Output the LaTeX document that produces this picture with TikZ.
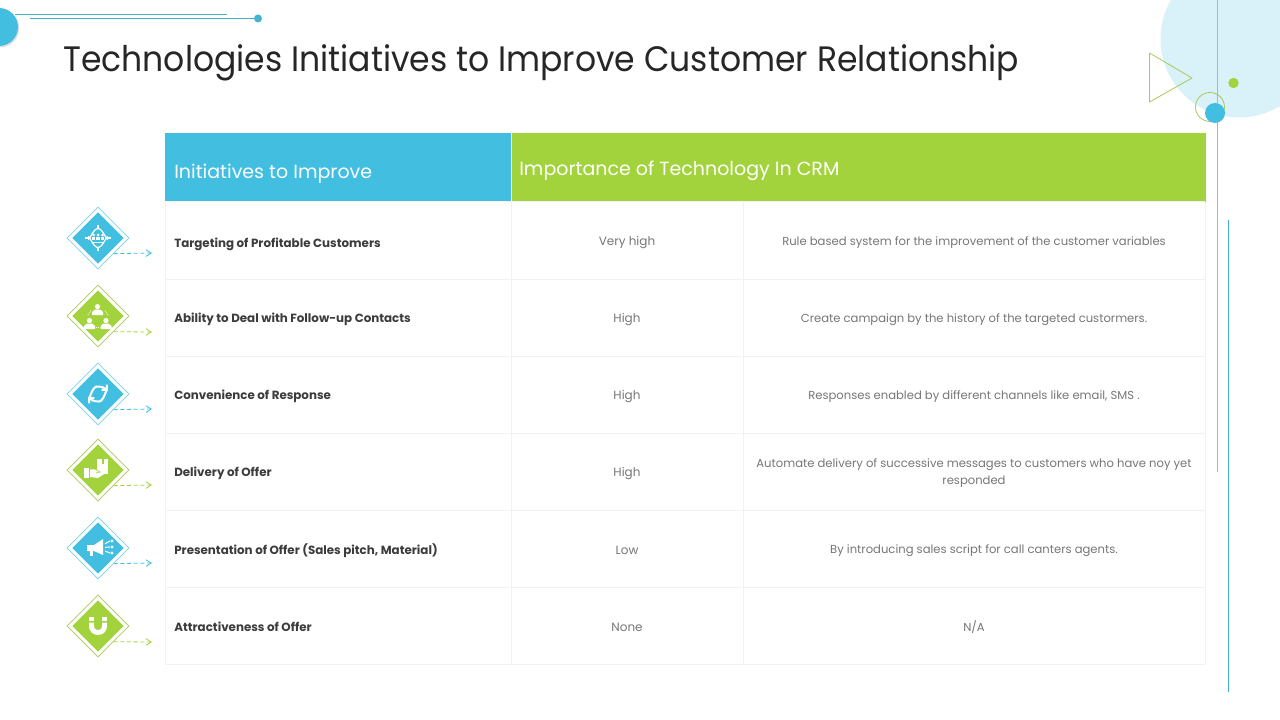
\documentclass[tikz,border=0pt]{standalone}
\usepackage{fontspec}
\setmainfont{Poppins}
\newfontfamily\titlefont[FakeStretch=0.935]{Poppins}
\usepackage{tikz}
\usetikzlibrary{arrows.meta,shapes.geometric,shadows}
\definecolor{crmblue}{RGB}{65,190,224}
\definecolor{crmgreen}{RGB}{162,211,60}
\definecolor{crmpale}{RGB}{217,241,248}
\definecolor{crmline}{RGB}{241,243,243}
\definecolor{crmtext}{RGB}{118,118,118}
\definecolor{crmdark}{RGB}{38,38,38}
\definecolor{crmteal}{RGB}{70,178,200}
\definecolor{crmolive}{RGB}{170,200,90}
\tikzset{
  headblue/.style = {rectangle, minimum width=259.5pt, minimum height=51.75pt, inner sep=0pt, fill=crmblue},
  headgreen/.style = {rectangle, minimum width=520.5pt, minimum height=51.75pt, inner sep=0pt, fill=crmgreen},
  headtext/.style = {text=white, font=\fontsize{14.25}{18}\selectfont, inner sep=0pt, anchor=west},
  gridline/.style = {draw=crmline, line width=0.75pt},
  nametext/.style = {inner sep=0pt, anchor=west, font=\fontsize{8.9}{11}\selectfont\bfseries, text=crmdark!90},
  leveltext/.style = {inner sep=0pt, align=center, font=\fontsize{9}{12.75}\selectfont, text=crmtext},
  notetext/.style = {inner sep=0pt, align=center, font=\fontsize{8.7}{12.75}\selectfont, text=crmtext},
  bluemark/.style = {diamond, aspect=1, minimum size=38.5pt, inner sep=0pt, fill=crmblue},
  greenmark/.style = {diamond, aspect=1, minimum size=38.5pt, inner sep=0pt, fill=crmgreen},
  blueframe/.style = {diamond, aspect=1, minimum size=46.5pt, inner sep=0pt, draw=crmblue!70, line width=0.5pt, fill=white},
  greenframe/.style = {diamond, aspect=1, minimum size=46.5pt, inner sep=0pt, draw=crmolive, line width=0.5pt, fill=white},
  bluearrow/.style = {crmblue, densely dashed, line width=0.6pt, -{Straight Barb[length=4pt,width=5pt]}},
  greenarrow/.style = {crmgreen, densely dashed, line width=0.6pt, -{Straight Barb[length=4pt,width=5pt]}},
  person/.pic = {
    \fill[white] (0,-3.4) circle (2.6);
    \fill[white] (-5.5,5) -- (-5.5,2) -- (-2.5,-0.5) -- (2.5,-0.5) -- (5.5,2) -- (5.5,5) -- cycle;
  }
}
\begin{document}
\begin{tikzpicture}[x=0.75pt,y=-0.75pt]
\useasboundingbox (0,0) rectangle (1280,720);
\clip (0,0) rectangle (1280,720);

% Corner decoration, right
\fill[crmpale] (1239,39) circle (78.5);
\draw[crmolive, line width=0.6pt, line join=round] (1149.5,53) -- (1192,78) -- (1149.5,102) -- cycle;
\draw[crmgreen, line width=0.85pt] (1217.5,0) -- (1217.5,472);
\draw[crmteal, line width=0.7pt] (1228.5,220) -- (1228.5,692);
\fill[crmgreen] (1233.5,83) circle (5.2);
\draw[crmolive, line width=0.6pt] (1210,107) circle (14.5);
\fill[crmblue] (1215,113) circle (10);

% Corner decoration, left
\fill[crmblue, drop shadow={shadow xshift=1pt, shadow yshift=-1pt, opacity=0.25}] (-1,27) circle (19);
\draw[crmteal, line width=0.6pt] (15,14.5) -- (227,14.5);
\draw[crmteal, line width=0.6pt] (30,18.5) -- (258,18.5);
\fill[crmteal!80!crmblue] (258,18.5) circle (4);

% Title
\node[anchor=west, inner sep=0pt, text=crmdark, font=\titlefont\fontsize{26.5}{32}\selectfont] (title) at (63,63) {Technologies Initiatives to Improve Customer Relationship};

% Header
\node[headblue] (headleft) at (338,167.5) {};
\node[headgreen] (headright) at (858.5,167.5) {};
\node[headtext] (headlefttext) at (174,174) {Initiatives to Improve};
\node[headtext] (headrighttext) at (519,171) {Importance of Technology In CRM};

% Grid
\foreach \y in {202,279,356,433,510,587,664} \draw[gridline] (165,\y) -- (1205,\y);
\foreach \x in {165,511,743,1205} \draw[gridline] (\x,202) -- (\x,664);

% Rows
\node[nametext] (name1) at (174,244.5) {Targeting of Profitable Customers};
\node[leveltext] (level1) at (627,242.5) {Very high};
\node[notetext] (note1) at (974,242.5) {Rule based system for the improvement of the customer variables};

\node[nametext] (name2) at (174,319.5) {Ability to Deal with Follow-up Contacts};
\node[leveltext] (level2) at (627,319.5) {High};
\node[notetext] (note2) at (974,319.5) {Create campaign by the history of the targeted custormers.};

\node[nametext] (name3) at (174,396.5) {Convenience of Response};
\node[leveltext] (level3) at (627,396.5) {High};
\node[notetext] (note3) at (974,396.5) {Responses enabled by different channels like email, SMS .};

\node[nametext] (name4) at (174,473.5) {Delivery of Offer};
\node[leveltext] (level4) at (627,473.5) {High};
\node[notetext] (note4) at (974,473.5) {Automate delivery of successive messages to customers who have noy yet\\responded};

\node[nametext] (name5) at (174,550.5) {Presentation of Offer (Sales pitch, Material)};
\node[leveltext] (level5) at (627,550.5) {Low};
\node[notetext] (note5) at (974,550.5) {By introducing sales script for call canters agents.};

\node[nametext] (name6) at (174,627) {Attractiveness of Offer};
\node[leveltext] (level6) at (627,627) {None};
\node[notetext] (note6) at (974,627) {N/A};

% Diamonds
\node[blueframe] (frame1) at (98,238) {};
\node[bluemark] (mark1) at (98,238) {};
\node[greenframe] (frame2) at (98,316) {};
\node[greenmark] (mark2) at (98,316) {};
\node[blueframe] (frame3) at (98,394) {};
\node[bluemark] (mark3) at (98,394) {};
\node[greenframe] (frame4) at (98,470) {};
\node[greenmark] (mark4) at (98,470) {};
\node[blueframe] (frame5) at (98,548) {};
\node[bluemark] (mark5) at (98,548) {};
\node[greenframe] (frame6) at (98,626) {};
\node[greenmark] (mark6) at (98,626) {};

% Arrows
\coordinate (end1) at (152,253);
\coordinate (end2) at (152,332);
\coordinate (end3) at (152,409);
\coordinate (end4) at (152,485);
\coordinate (end5) at (152,563);
\coordinate (end6) at (152,642);
\draw[bluearrow] (frame1.south east) -- (end1);
\draw[greenarrow] (frame2.south east) -- (end2);
\draw[bluearrow] (frame3.south east) -- (end3);
\draw[greenarrow] (frame4.south east) -- (end4);
\draw[bluearrow] (frame5.south east) -- (end5);
\draw[greenarrow] (frame6.south east) -- (end6);

% Icon: target
\begin{scope}[shift={(98,238)}]
\draw[white, line width=0.9pt] (-9.5,0) to[out=-90,in=180] (0,-9.5) to[out=0,in=-90] (9.5,0) to[out=90,in=0] (0,9.5) to[out=180,in=90] (-9.5,0);
\draw[white, line width=0.9pt] (9,0) -- (13,0) (-9,0) -- (-13,0) (0,9) -- (0,13) (0,-9) -- (0,-13);
\foreach \u in {-4.5,0,4.5} {\fill[white] (\u,-3) circle (1.5); \fill[white] (\u-1.9,2.5) rectangle (\u+1.9,-1);}
\draw[white, line width=0.5pt] (-6,4.5) -- (6,4.5);
\end{scope}

% Icon: people in a ring
\begin{scope}[shift={(98,316)}]
\pic at (-0.5,-6) {person};
\pic at (-8.5,8) {person};
\pic at (8,8) {person};
\draw[white, line width=0.6pt, densely dotted] (-2,11) -- (2,11);
\draw[white, line width=0.6pt, densely dotted] (-10,-1) -- (-7,-6);
\draw[white, line width=0.6pt, densely dotted] (10,-1) -- (7,-6);
\end{scope}

% Icon: two arrows
\begin{scope}[shift={(98,394)}]
\draw[white, line width=1.5pt, -{Straight Barb[length=3pt,width=5.5pt]}] (-9,3) to[out=-90,in=180] (-1,-7.5) to[out=0,in=135] (10,-3);
\draw[white, line width=1.5pt, -{Straight Barb[length=3pt,width=5.5pt]}] (9,-3) to[out=90,in=0] (1,7.5) to[out=180,in=-45] (-10,3);
\end{scope}

% Icon: hand with box
\begin{scope}[shift={(98,470)}]
\fill[white] (-1,-11) rectangle (10,4);
\fill[crmgreen] (3.5,-11) rectangle (5.5,-6);
\fill[white] (-14,-2) rectangle (-9,8);
\fill[white] (-8,-1) -- (-3,-1) -- (2,2) -- (6,1) -- (6,4) -- (0,8) -- (-8,7) -- cycle;
\draw[crmgreen, line width=0.5pt] (-8,-1) -- (-3,-1) -- (2,2) -- (-2,3);
\end{scope}

% Icon: loudspeaker
\begin{scope}[shift={(98,548)}]
\fill[white] (-4,-3) -- (5,-9) -- (5,7) -- (-4,3) -- (-11,3) -- (-11,-3) -- cycle;
\fill[white] (-8,3) rectangle (-5,8);
\foreach \v in {-7,-1,5} {\draw[white, line width=0.8pt] (7,\v*0.6) -- (12,\v); \fill[white] (14,\v) circle (1.6);}
\end{scope}

% Icon: magnet
\begin{scope}[shift={(98,626)}]
\draw[white, line width=3.7pt, rounded corners=4.8pt] (-6.5,-3.5) -- (-6.5,6.5) -- (6.5,6.5) -- (6.5,-3.5);
\fill[white] (-9,-9) rectangle (-4,-5);
\fill[white] (4,-9) rectangle (9,-5);
\end{scope}
\end{tikzpicture}
\end{document}
